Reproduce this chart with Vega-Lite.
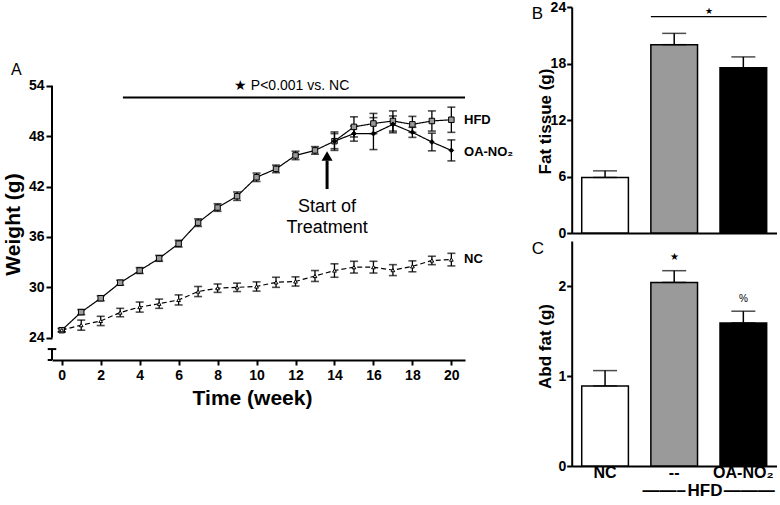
{
  "$schema": "https://vega.github.io/schema/vega-lite/v6.json",
  "padding": {"left": 2, "top": 0, "right": 0, "bottom": 0},
  "bounds": "flush",
  "spacing": 106.7,
  "config": {
    "font": "Liberation Sans",
    "view": {"stroke": null},
    "axis": {"grid": false, "domainColor": "black", "domainWidth": 2, "tickColor": "black", "tickWidth": 2, "labelColor": "black", "labelFontWeight": "bold", "titleColor": "black", "titleFontWeight": "bold"},
    "title": {"color": "black"}
  },
  "hconcat": [
    {
      "width": 413,
      "height": 353,
      "data": {"values": [
        {"week": 0, "group": "HFD", "mean": 24.9, "lo": 24.7, "hi": 25.1},
        {"week": 1, "group": "HFD", "mean": 27.05, "lo": 26.75, "hi": 27.35},
        {"week": 2, "group": "HFD", "mean": 28.7, "lo": 28.4, "hi": 29.0},
        {"week": 3, "group": "HFD", "mean": 30.55, "lo": 30.25, "hi": 30.85},
        {"week": 4, "group": "HFD", "mean": 32.0, "lo": 31.65, "hi": 32.35},
        {"week": 5, "group": "HFD", "mean": 33.45, "lo": 33.1, "hi": 33.8},
        {"week": 6, "group": "HFD", "mean": 35.2, "lo": 34.8, "hi": 35.6},
        {"week": 7, "group": "HFD", "mean": 37.7, "lo": 37.25, "hi": 38.15},
        {"week": 8, "group": "HFD", "mean": 39.5, "lo": 39.05, "hi": 39.95},
        {"week": 9, "group": "HFD", "mean": 40.85, "lo": 40.35, "hi": 41.35},
        {"week": 10, "group": "HFD", "mean": 43.1, "lo": 42.6, "hi": 43.6},
        {"week": 11, "group": "HFD", "mean": 44.1, "lo": 43.65, "hi": 44.55},
        {"week": 12, "group": "HFD", "mean": 45.7, "lo": 45.2, "hi": 46.2},
        {"week": 13, "group": "HFD", "mean": 46.3, "lo": 45.85, "hi": 46.75},
        {"week": 14, "group": "HFD", "mean": 47.4, "lo": 46.3, "hi": 48.5},
        {"week": 15, "group": "HFD", "mean": 49.1, "lo": 47.9, "hi": 50.3},
        {"week": 16, "group": "HFD", "mean": 49.5, "lo": 48.3, "hi": 50.7},
        {"week": 17, "group": "HFD", "mean": 49.8, "lo": 48.6, "hi": 51.0},
        {"week": 18, "group": "HFD", "mean": 49.4, "lo": 48.45, "hi": 50.35},
        {"week": 19, "group": "HFD", "mean": 49.8, "lo": 48.6, "hi": 51.0},
        {"week": 20, "group": "HFD", "mean": 49.95, "lo": 48.45, "hi": 51.45},
        {"week": 14, "group": "OA-NO₂", "mean": 47.4, "lo": 46.5, "hi": 48.3},
        {"week": 15, "group": "OA-NO₂", "mean": 48.3, "lo": 47.4, "hi": 49.2},
        {"week": 16, "group": "OA-NO₂", "mean": 48.3, "lo": 46.4, "hi": 50.2},
        {"week": 17, "group": "OA-NO₂", "mean": 49.4, "lo": 48.4, "hi": 50.4},
        {"week": 18, "group": "OA-NO₂", "mean": 48.45, "lo": 47.85, "hi": 49.05},
        {"week": 19, "group": "OA-NO₂", "mean": 47.3, "lo": 46.25, "hi": 48.35},
        {"week": 20, "group": "OA-NO₂", "mean": 46.3, "lo": 45.05, "hi": 47.55},
        {"week": 0, "group": "NC", "mean": 24.9, "lo": 24.7, "hi": 25.1},
        {"week": 1, "group": "NC", "mean": 25.5, "lo": 24.9, "hi": 26.1},
        {"week": 2, "group": "NC", "mean": 26.0, "lo": 25.45, "hi": 26.55},
        {"week": 3, "group": "NC", "mean": 27.0, "lo": 26.5, "hi": 27.5},
        {"week": 4, "group": "NC", "mean": 27.65, "lo": 27.05, "hi": 28.25},
        {"week": 5, "group": "NC", "mean": 28.05, "lo": 27.5, "hi": 28.6},
        {"week": 6, "group": "NC", "mean": 28.5, "lo": 27.9, "hi": 29.1},
        {"week": 7, "group": "NC", "mean": 29.5, "lo": 28.9, "hi": 30.1},
        {"week": 8, "group": "NC", "mean": 29.9, "lo": 29.4, "hi": 30.4},
        {"week": 9, "group": "NC", "mean": 30.0, "lo": 29.5, "hi": 30.5},
        {"week": 10, "group": "NC", "mean": 30.1, "lo": 29.55, "hi": 30.65},
        {"week": 11, "group": "NC", "mean": 30.6, "lo": 30.0, "hi": 31.2},
        {"week": 12, "group": "NC", "mean": 30.7, "lo": 30.15, "hi": 31.25},
        {"week": 13, "group": "NC", "mean": 31.35, "lo": 30.7, "hi": 32.0},
        {"week": 14, "group": "NC", "mean": 32.0, "lo": 31.2, "hi": 32.8},
        {"week": 15, "group": "NC", "mean": 32.4, "lo": 31.7, "hi": 33.1},
        {"week": 16, "group": "NC", "mean": 32.4, "lo": 31.7, "hi": 33.1},
        {"week": 17, "group": "NC", "mean": 32.05, "lo": 31.4, "hi": 32.7},
        {"week": 18, "group": "NC", "mean": 32.5, "lo": 31.85, "hi": 33.15},
        {"week": 19, "group": "NC", "mean": 33.2, "lo": 32.7, "hi": 33.7},
        {"week": 20, "group": "NC", "mean": 33.3, "lo": 32.55, "hi": 34.05}
      ]},
      "layer": [
        {
          "mark": {"type": "errorbar", "color": "black", "thickness": 1.3, "ticks": {"size": 8, "thickness": 1.6, "color": "black"}},
          "encoding": {
            "x": {"field": "week", "type": "quantitative", "scale": {"domain": [-0.5, 20.7], "nice": false, "zero": false},
                  "axis": {"title": "Time (week)", "values": [0, 2, 4, 6, 8, 10, 12, 14, 16, 18, 20], "titleX": 200, "titleY": 38, "titleBaseline": "middle", "titleAlign": "center", "titleFontSize": 21, "labelFontSize": 14, "tickSize": 5, "labelPadding": 3}},
            "y": {"field": "lo", "type": "quantitative", "scale": {"domain": [21.35, 63.37], "nice": false, "zero": false},
                  "axis": {"title": "Weight (g)", "values": [24, 30, 36, 42, 48, 54], "domain": false, "titleX": -39, "titleY": 217, "titleAngle": -90, "titleBaseline": "middle", "titleAlign": "center", "titleFontSize": 21, "labelFontSize": 14, "tickSize": 6, "labelPadding": 2}},
            "y2": {"field": "hi"}
          }
        },
        {
          "mark": {"type": "line", "color": "black", "strokeWidth": 1.2},
          "encoding": {
            "x": {"field": "week", "type": "quantitative", "scale": {"domain": [-0.5, 20.7], "nice": false, "zero": false}},
            "y": {"field": "mean", "type": "quantitative", "scale": {"domain": [21.35, 63.37], "nice": false, "zero": false}},
            "strokeDash": {"field": "group", "type": "nominal", "scale": {"domain": ["HFD", "OA-NO₂", "NC"], "range": [[1, 0], [1, 0], [5, 3]]}, "legend": null}
          }
        },
        {
          "mark": {"type": "point", "filled": true, "stroke": "black", "strokeWidth": 1, "opacity": 1},
          "encoding": {
            "x": {"field": "week", "type": "quantitative", "scale": {"domain": [-0.5, 20.7], "nice": false, "zero": false}},
            "y": {"field": "mean", "type": "quantitative", "scale": {"domain": [21.35, 63.37], "nice": false, "zero": false}},
            "shape": {"field": "group", "type": "nominal", "scale": {"domain": ["HFD", "OA-NO₂", "NC"], "range": ["square", "diamond", "triangle-up"]}, "legend": null},
            "fill": {"field": "group", "type": "nominal", "scale": {"domain": ["HFD", "OA-NO₂", "NC"], "range": ["#9a9a9a", "black", "white"]}, "legend": null},
            "size": {"field": "group", "type": "ordinal", "scale": {"domain": ["HFD", "OA-NO₂", "NC"], "range": [30, 14, 55]}, "legend": null}
          }
        },
        {
          "data": {"values": [
            {"x": -0.5, "x2": -0.5, "y": 24, "y2": 54},
            {"x": -0.5, "x2": -0.5, "y": 21.35, "y2": 22.65},
            {"x": -0.72, "x2": -0.28, "y": 22.65, "y2": 22.65},
            {"x": -0.72, "x2": -0.5, "y": 21.35, "y2": 21.35},
            {"x": 3.14, "x2": 20.7, "y": 52.6, "y2": 52.6}
          ]},
          "mark": {"type": "rule", "color": "black", "strokeWidth": 2},
          "encoding": {
            "x": {"field": "x", "type": "quantitative", "scale": {"domain": [-0.5, 20.7], "nice": false, "zero": false}},
            "x2": {"field": "x2"},
            "y": {"field": "y", "type": "quantitative", "scale": {"domain": [21.35, 63.37], "nice": false, "zero": false}},
            "y2": {"field": "y2"}
          }
        },
        {
          "data": {"values": [{"x": 13.62, "y": 41.7, "y2": 45.1}]},
          "mark": {"type": "rule", "color": "black", "strokeWidth": 3},
          "encoding": {
            "x": {"field": "x", "type": "quantitative", "scale": {"domain": [-0.5, 20.7], "nice": false, "zero": false}},
            "y": {"field": "y", "type": "quantitative", "scale": {"domain": [21.35, 63.37], "nice": false, "zero": false}},
            "y2": {"field": "y2"}
          }
        },
        {
          "data": {"values": [{"x": 13.62, "y": 45.64}]},
          "mark": {"type": "point", "shape": "triangle-up", "filled": true, "color": "black", "opacity": 1, "size": 121},
          "encoding": {
            "x": {"field": "x", "type": "quantitative", "scale": {"domain": [-0.5, 20.7], "nice": false, "zero": false}},
            "y": {"field": "y", "type": "quantitative", "scale": {"domain": [21.35, 63.37], "nice": false, "zero": false}}
          }
        },
        {
          "data": {"values": [
            {"x": 11.8, "y": 54.0, "t": "★ P<0.001 vs. NC", "s": 14},
            {"x": 13.62, "y": 39.56, "t": "Start of", "s": 18},
            {"x": 13.62, "y": 37.1, "t": "Treatment", "s": 18},
            {"x": -2.33, "y": 55.9, "t": "A", "s": 16}
          ]},
          "mark": {"type": "text", "color": "black", "fill": "black", "align": "center", "baseline": "middle"},
          "encoding": {
            "x": {"field": "x", "type": "quantitative", "scale": {"domain": [-0.5, 20.7], "nice": false, "zero": false}},
            "y": {"field": "y", "type": "quantitative", "scale": {"domain": [21.35, 63.37], "nice": false, "zero": false}},
            "text": {"field": "t"},
            "size": {"field": "s", "type": "quantitative", "scale": null}
          }
        },
        {
          "data": {"values": [
            {"x": 20.65, "y": 49.9, "t": "HFD"},
            {"x": 20.65, "y": 46.14, "t": "OA-NO₂"},
            {"x": 20.65, "y": 33.33, "t": "NC"}
          ]},
          "mark": {"type": "text", "color": "black", "fill": "black", "align": "left", "baseline": "middle", "fontWeight": "bold", "fontSize": 13},
          "encoding": {
            "x": {"field": "x", "type": "quantitative", "scale": {"domain": [-0.5, 20.7], "nice": false, "zero": false}},
            "y": {"field": "y", "type": "quantitative", "scale": {"domain": [21.35, 63.37], "nice": false, "zero": false}},
            "text": {"field": "t"}
          }
        }
      ]
    },
    {
      "spacing": 8,
      "bounds": "flush",
      "vconcat": [
        {
          "width": 205,
          "height": 226,
          "title": {"text": "B", "anchor": "start", "frame": "group", "align": "left", "baseline": "middle", "offset": 0, "dx": -40, "dy": 31, "fontSize": 17, "fontWeight": "normal"},
          "data": {"values": [
            {"group": "NC", "fat": 5.9, "fat_hi": 6.6},
            {"group": "--", "fat": 20.0, "fat_hi": 21.2},
            {"group": "OA-NO₂", "fat": 17.55, "fat_hi": 18.7}
          ]},
          "layer": [
            {
              "mark": {"type": "bar", "stroke": "black", "strokeWidth": 1.5},
              "encoding": {
                "x": {"field": "group", "type": "nominal", "scale": {"domain": ["NC", "--", "OA-NO₂"], "paddingInner": 0.325, "paddingOuter": 0.145}, "axis": {"title": null, "labels": false, "ticks": false}},
                "y": {"field": "fat", "type": "quantitative", "scale": {"domain": [0, 24], "nice": false}, "title": "Fat tissue (g)", "axis": {"title": "Fat tissue (g)", "values": [0, 6, 12, 18, 24], "titleX": -26, "titleY": 114, "titleAngle": -90, "titleBaseline": "middle", "titleAlign": "center", "titleFontSize": 17, "labelFontSize": 14, "tickSize": 5, "labelPadding": 1}},
                "fill": {"field": "group", "type": "nominal", "scale": {"domain": ["NC", "--", "OA-NO₂"], "range": ["white", "#808080", "black"]}, "legend": null}
              }
            },
            {
              "mark": {"type": "errorbar", "color": "black", "thickness": 1.5, "ticks": {"size": 24, "thickness": 1.5, "color": "black"}},
              "encoding": {
                "x": {"field": "group", "type": "nominal", "title": null, "scale": {"domain": ["NC", "--", "OA-NO₂"]}},
                "y": {"field": "fat", "type": "quantitative", "title": "Fat tissue (g)"},
                "y2": {"field": "fat_hi"}
              }
            },
            {
              "data": {"values": [{"a": "--", "b": "OA-NO₂", "y": 22.97}]},
              "mark": {"type": "rule", "color": "black", "strokeWidth": 1.2},
              "encoding": {
                "x": {"field": "a", "type": "nominal", "title": null, "bandPosition": 0, "scale": {"domain": ["NC", "--", "OA-NO₂"]}},
                "x2": {"field": "b", "bandPosition": 1},
                "y": {"field": "y", "type": "quantitative", "title": "Fat tissue (g)"}
              }
            },
            {
              "data": {"values": [{"a": "--", "y": 23.6, "t": "★"}]},
              "mark": {"type": "text", "color": "black", "fill": "black", "fontSize": 9, "baseline": "middle"},
              "encoding": {
                "x": {"field": "a", "type": "nominal", "title": null, "bandPosition": 1.24, "scale": {"domain": ["NC", "--", "OA-NO₂"]}},
                "y": {"field": "y", "type": "quantitative", "title": "Fat tissue (g)"},
                "text": {"field": "t"}
              }
            }
          ]
        },
        {
          "width": 205,
          "height": 225,
          "title": {"text": "C", "anchor": "start", "frame": "group", "align": "left", "baseline": "middle", "offset": 0, "dx": -40, "dy": 25, "fontSize": 17, "fontWeight": "normal"},
          "data": {"values": [
            {"group": "NC", "abd": 0.89, "abd_hi": 1.06},
            {"group": "--", "abd": 2.04, "abd_hi": 2.17},
            {"group": "OA-NO₂", "abd": 1.59, "abd_hi": 1.72}
          ]},
          "layer": [
            {
              "mark": {"type": "bar", "stroke": "black", "strokeWidth": 1.5},
              "encoding": {
                "x": {"field": "group", "type": "nominal", "scale": {"domain": ["NC", "--", "OA-NO₂"], "paddingInner": 0.325, "paddingOuter": 0.145},
                      "axis": {"title": "——–\u200aHFD\u200a———", "titleX": 136.5, "titleY": 24, "titleBaseline": "middle", "titleAlign": "center", "titleFontSize": 17, "labelFontSize": 16, "labelAngle": 0, "ticks": false, "labelPadding": -2, "labelBaseline": "top"}},
                "y": {"field": "abd", "type": "quantitative", "scale": {"domain": [0, 2.5], "nice": false}, "axis": {"title": "Abd fat (g)", "values": [0, 1, 2], "format": "d", "titleX": -26, "titleY": 105, "titleAngle": -90, "titleBaseline": "middle", "titleAlign": "center", "titleFontSize": 17, "labelFontSize": 14, "tickSize": 5, "labelPadding": 1}},
                "fill": {"field": "group", "type": "nominal", "scale": {"domain": ["NC", "--", "OA-NO₂"], "range": ["white", "#808080", "black"]}, "legend": null}
              }
            },
            {
              "mark": {"type": "errorbar", "color": "black", "thickness": 1.5, "ticks": {"size": 24, "thickness": 1.5, "color": "black"}},
              "encoding": {
                "x": {"field": "group", "type": "nominal", "title": "——–\u200aHFD\u200a———", "scale": {"domain": ["NC", "--", "OA-NO₂"]}},
                "y": {"field": "abd", "type": "quantitative", "title": "Abd fat (g)"},
                "y2": {"field": "abd_hi"}
              }
            },
            {
              "data": {"values": [{"group": "--", "y": 2.32, "t": "★"}, {"group": "OA-NO₂", "y": 1.86, "t": "%"}]},
              "mark": {"type": "text", "color": "black", "fill": "black", "fontSize": 10, "baseline": "middle"},
              "encoding": {
                "x": {"field": "group", "type": "nominal", "title": "——–\u200aHFD\u200a———", "scale": {"domain": ["NC", "--", "OA-NO₂"]}},
                "y": {"field": "y", "type": "quantitative", "title": "Abd fat (g)"},
                "text": {"field": "t"}
              }
            }
          ]
        }
      ]
    }
  ]
}
